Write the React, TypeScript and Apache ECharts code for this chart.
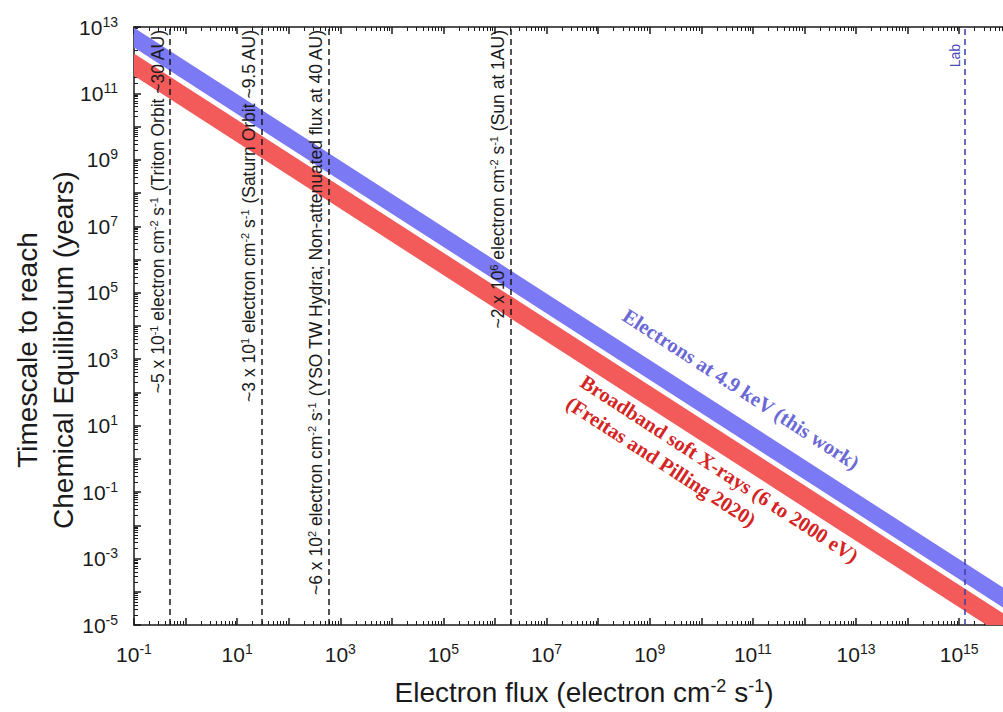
import React, { useEffect, useRef } from "react";
import * as echarts from "echarts";

// ---- data ----
// Band end points, flux in electron cm^-2 s^-1, timescale in years
const bandFlux = [1e-1, 1e16];
const electronUpper = [9.5e12, 9.5e-5];
const electronLower = [2.4e12, 2.4e-5];
const xrayUpper = [1.6e12, 1.6e-5];
const xrayLower = [3.4e11, 3.4e-6];

// Reference fluxes (vertical dashed lines)
const refFlux = [5e-1, 3e1, 6e2, 2e6, 1.3e15];
const refLabels = [
  "~5 x 10{s|-1} electron cm{s|-2} s{s|-1} (Triton Orbit ~30 AU)",
  "~3 x 10{s|1} electron cm{s|-2} s{s|-1} (Saturn Orbit ~9.5 AU)",
  "~6 x 10{s|2} electron cm{s|-2} s{s|-1} (YSO TW Hydra; Non-attenuated flux at 40 AU)",
  "~2 x 10{s|6} electron cm{s|-2} s{s|-1} (Sun at 1AU)",
  "Lab",
];
const refColors = ["#1a1a1a", "#1a1a1a", "#1a1a1a", "#1a1a1a", "#3c3ca8"];

// Band annotation texts with anchor [log10 flux, log10 years]
const bandLabels = [
  { text: "Electrons at 4.9 keV (this work)", at: [10.77, 2.1], color: "#6a68d6" },
  { text: "Broadband soft X-rays (6 to 2000 eV)", at: [10.35, -0.3], color: "#d42424" },
  { text: "(Freitas and Pilling 2020)", at: [9.22, -0.08], color: "#d42424" },
];

// Axis exponents
const xMin = -1;
const xMax = 15.85;
const yMin = -5;
const yMax = 13;
const xMajorExp = [-1, 0, 1, 2, 3, 4, 5, 6, 7, 8, 9, 10, 11, 12, 13, 14, 15];
const xLabelExp = [-1, 1, 3, 5, 7, 9, 11, 13, 15];
const yMajorExp = [-5, -4, -3, -2, -1, 0, 1, 2, 3, 4, 5, 6, 7, 8, 9, 10, 11, 12, 13];
const yLabelExp = [-5, -3, -1, 1, 3, 5, 7, 9, 11, 13];
const minorMult = [2, 3, 4, 5, 6, 7, 8, 9];

const lg = Math.log10;
const FONT = "'Liberation Sans', Arial, sans-serif";
const SERIF = "'Liberation Serif', 'Times New Roman', serif";
const BLUE = "#7b79f3";
const RED = "#f35b5b";

function minorTicks(lo: number, hi: number, majors: number[]) {
  const out: number[] = [];
  majors.forEach((m) => {
    minorMult.forEach((k) => {
      const v = m + lg(k);
      if (v >= lo && v <= hi) out.push(v);
    });
  });
  return out;
}

const supLabel = (v: number) => `{b|10}{s|${Math.round(v)}}`;
const labelRich = {
  b: { fontSize: 21, fontFamily: FONT, color: "#1a1a1a" },
  s: { fontSize: 14, fontFamily: FONT, color: "#1a1a1a", padding: [0, 0, 11, 0] },
};

function bandSeries(name: string, upper: number[], lower: number[], color: string) {
  const rows = bandFlux.map((f, i) => [lg(f), lg(upper[i]), lg(lower[i])]);
  return {
    name,
    type: "custom",
    clip: true,
    silent: true,
    z: 2,
    encode: { x: 0, y: [1, 2] },
    data: rows,
    renderItem: (params: any, api: any) => {
      const i = params.dataIndex;
      if (i >= rows.length - 1) return null;
      const a = rows[i];
      const b = rows[i + 1];
      const pts = [
        api.coord([a[0], a[1]]),
        api.coord([b[0], b[1]]),
        api.coord([b[0], b[2]]),
        api.coord([a[0], a[2]]),
      ];
      return {
        type: "polygon",
        shape: { points: pts },
        style: { fill: color, stroke: "none" },
      };
    },
  };
}

const titleGraphics = [
  {
    type: "text", x: 45, y: 350, rotation: Math.PI / 2,
    style: {
      text: "Timescale to reach\nChemical Equilibrium (years)",
      align: "center", verticalAlign: "middle", fontSize: 28, lineHeight: 36,
      fontFamily: FONT, fill: "#1a1a1a",
    },
  },
  {
    type: "text", x: 584, y: 692,
    style: {
      text: "Electron flux (electron cm{s|-2} s{s|-1})",
      align: "center", verticalAlign: "middle", fontSize: 28,
      fontFamily: FONT, fill: "#1a1a1a",
      rich: { s: { fontSize: 18, fontFamily: FONT, fill: "#1a1a1a", padding: [0, 0, 13, 0] } },
    },
  },
];

export default function App() {
  const ref = useRef<HTMLDivElement>(null);
  useEffect(() => {
    if (!ref.current) return;
    const chart = echarts.init(ref.current, undefined, { renderer: "svg" });

    const xMinor = minorTicks(xMin, xMax, xMajorExp);
    const yMinor = minorTicks(yMin, yMax, yMajorExp);

    const axisLine = { show: true, onZero: false, lineStyle: { color: "#1a1a1a", width: 1.5 } };
    const majorTick = (vals: number[]) => ({
      show: true, inside: true, length: 7, customValues: vals,
      lineStyle: { color: "#1a1a1a", width: 1.5 },
    });
    const minorTick = (vals: number[]) => ({
      show: true, inside: true, length: 4, customValues: vals,
      lineStyle: { color: "#1a1a1a", width: 1 },
    });
    const baseX = { type: "value", min: xMin, max: xMax, splitLine: { show: false } };
    const baseY = { type: "value", min: yMin, max: yMax, splitLine: { show: false } };

    chart.setOption({
      animation: false,
      grid: { left: 134, right: 0, top: 27, bottom: 87, containLabel: false },
      xAxis: [
        {
          ...baseX, position: "bottom", axisLine, axisTick: majorTick(xMajorExp),
          axisLabel: {
            show: true, customValues: xLabelExp, formatter: supLabel, margin: 17, rich: labelRich,
          },
        },
        { ...baseX, position: "bottom", axisLine: { show: false, onZero: false }, axisTick: minorTick(xMinor), axisLabel: { show: false } },
        { ...baseX, position: "top", axisLine, axisTick: majorTick(xMajorExp), axisLabel: { show: false } },
        { ...baseX, position: "top", axisLine: { show: false, onZero: false }, axisTick: minorTick(xMinor), axisLabel: { show: false } },
      ],
      yAxis: [
        {
          ...baseY, position: "left", axisLine, axisTick: majorTick(yMajorExp),
          axisLabel: {
            show: true, customValues: yLabelExp, formatter: supLabel, margin: 16, rich: labelRich,
          },
        },
        { ...baseY, position: "left", axisLine: { show: false, onZero: false }, axisTick: minorTick(yMinor), axisLabel: { show: false } },
      ],
      series: [
        bandSeries("Electrons at 4.9 keV (this work)", electronUpper, electronLower, BLUE),
        bandSeries("Broadband soft X-rays (6 to 2000 eV)", xrayUpper, xrayLower, RED),
        {
          name: "reference fluxes", type: "line", data: [], silent: true, z: 3,
          markLine: {
            silent: true, symbol: ["none", "none"],
            data: refFlux.map((f, i) => {
              const c = i === 4 ? "#4a4ab8" : "#1a1a1a";
              return {
                xAxis: lg(f),
                lineStyle: { color: refColors[i], type: [6, 4], width: 1.5 },
                label: {
                  show: true, position: "insideEndTop", formatter: refLabels[i],
                  color: c, fontSize: i === 4 ? 14 : 17.5, fontFamily: FONT,
                  distance: 3, padding: i === 4 ? [0, 14, 0, 0] : 0,
                  rich: { s: { fontSize: 11, fontFamily: FONT, padding: [0, 0, 8, 0], color: c } },
                },
              };
            }),
          },
        },
      ],
      graphic: titleGraphics,
    });

    // Band annotations placed through the chart's own coordinate conversion
    const texts = bandLabels.map((b) => {
      const p = chart.convertToPixel({ gridIndex: 0 }, b.at) as number[];
      return {
        type: "text", x: p[0], y: p[1], rotation: (-33 * Math.PI) / 180, z: 10,
        style: {
          text: b.text, align: "center", verticalAlign: "middle",
          fontSize: 20.5, fontWeight: "bold", fontFamily: SERIF, fill: b.color,
        },
      };
    });
    chart.setOption({ graphic: [...titleGraphics, ...texts] });

    return () => chart.dispose();
  }, []);
  return (
    <div
      ref={ref}
      style={{ position: "fixed", left: 0, top: 0, width: 1003, height: 712, background: "#fff" }}
    />
  );
}
